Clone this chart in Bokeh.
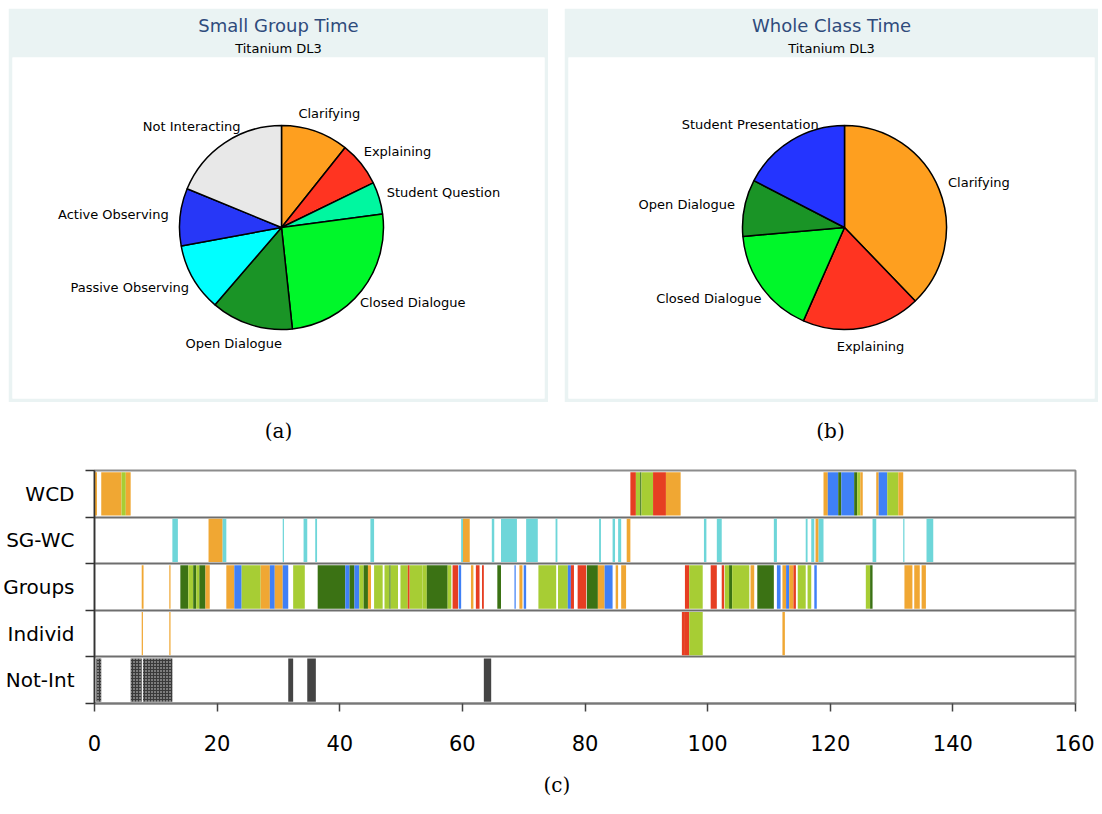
import math
from bokeh.plotting import figure
from bokeh.models import ColumnDataSource, Range1d, Title, FixedTicker, Spacer
from bokeh.layouts import column, row
from bokeh.core.properties import value
from bokeh.embed import file_html
from bokeh.resources import INLINE

# ---------------- data ----------------
sg_labels = ["Clarifying", "Explaining", "Student Question", "Closed Dialogue",
             "Open Dialogue", "Passive Observing", "Active Observing", "Not Interacting"]
sg_values = [10.7, 7.1, 5.1, 25.4, 13.0, 10.8, 9.1, 18.8]

wc_labels = ["Clarifying", "Explaining", "Closed Dialogue", "Open Dialogue", "Student Presentation"]
wc_values = [37.8, 18.8, 17.0, 9.0, 17.4]

captions = ["(a)", "(b)", "(c)"]

rows = ["WCD", "SG-WC", "Groups", "Individ", "Not-Int"]
x_ticks = [0, 20, 40, 60, 80, 100, 120, 140, 160]

# codes: C clarifying, E explaining, D closed dialogue, O open dialogue,
#        P presentation/observing, S small-group/whole-class, N not interacting, H not interacting (dotted)
wcd_start = [0.0, 1.1, 4.4, 5.1, 87.4, 88.3, 89.0, 89.2, 91.1, 93.2, 118.9, 119.6, 121.3, 121.8,
             123.9, 124.4, 124.9, 127.5, 127.9, 129.3, 131.1]
wcd_end = [0.4, 4.4, 5.1, 5.9, 88.3, 89.0, 89.2, 91.1, 93.2, 95.6, 119.6, 121.3, 121.8, 123.9,
           124.4, 124.9, 125.3, 127.9, 129.3, 131.1, 131.9]
wcd_code = ["C", "C", "D", "C", "E", "D", "O", "D", "E", "C", "C", "P", "O", "P",
            "O", "D", "C", "C", "P", "D", "C"]

sgwc_start = [12.7, 18.6, 20.9, 30.7, 34.1, 36.0, 45.0, 59.8, 60.1, 64.8, 66.3, 70.4, 75.2, 82.3,
              84.5, 85.4, 86.8, 99.4, 101.5, 110.8, 116.0, 116.9, 117.6, 118.1, 126.9, 131.9, 135.7]
sgwc_end = [13.6, 20.9, 21.5, 30.9, 34.7, 36.3, 45.6, 60.1, 61.2, 65.2, 68.9, 72.3, 75.5, 82.6,
            84.9, 85.9, 87.4, 99.8, 102.3, 111.3, 116.3, 117.4, 118.1, 118.9, 127.5, 132.1, 136.8]
sgwc_code = ["S", "C", "S", "S", "S", "S", "S", "S", "C", "S", "S", "S", "S", "S",
             "S", "S", "C", "S", "S", "S", "S", "S", "C", "S", "S", "S", "S"]

groups_start = [7.7, 12.2, 14.0, 15.3, 16.1, 16.6, 17.1, 18.1, 21.5, 22.8, 24.0, 27.1, 28.6, 29.4,
                30.7, 32.4, 36.4, 40.9, 41.6, 42.4, 43.2, 43.9, 44.6, 45.6, 47.3, 48.1, 48.3, 49.9,
                51.1, 51.4, 53.5, 54.2, 57.6, 58.4, 59.4, 61.4, 62.2, 63.2, 65.7, 68.5, 69.3, 70.0,
                72.4, 75.6, 77.2, 77.7, 78.8, 80.3, 82.1, 83.2, 85.0, 85.9, 96.3, 97.0, 100.5, 102.3,
                102.8, 103.5, 104.0, 107.0, 108.1, 111.3, 112.2, 112.8, 113.3, 114.0, 114.7, 116.3,
                117.4, 125.8, 126.5, 132.1, 133.7, 134.9]
groups_end = [8.0, 12.4, 15.3, 16.1, 16.6, 17.1, 18.1, 18.8, 22.8, 24.0, 27.1, 28.6, 29.4, 30.7,
              31.6, 34.3, 40.9, 41.6, 42.4, 43.2, 43.9, 44.6, 45.1, 47.0, 48.1, 48.3, 49.5, 51.1,
              51.4, 53.5, 54.2, 57.6, 58.2, 59.3, 59.8, 61.8, 62.8, 63.5, 66.3, 68.7, 69.8, 70.4,
              75.3, 77.2, 77.7, 78.2, 80.2, 82.1, 83.2, 84.5, 85.4, 86.7, 97.0, 99.2, 101.5, 102.7,
              103.5, 104.0, 106.8, 107.6, 110.8, 111.9, 112.8, 113.3, 114.0, 114.4, 116.0, 116.9,
              117.8, 126.5, 126.9, 133.4, 134.6, 135.6]
groups_code = ["C", "C", "O", "D", "O", "D", "O", "C", "C", "P", "D", "C", "P", "C",
               "P", "D", "O", "P", "O", "P", "D", "O", "C", "D", "D", "O", "D", "D",
               "E", "D", "D", "O", "D", "E", "P", "C", "E", "E", "O", "P", "C", "P",
               "D", "D", "P", "E", "E", "O", "C", "P", "C", "C", "E", "D", "E", "E",
               "D", "O", "D", "C", "O", "P", "C", "P", "C", "E", "D", "D",
               "P", "D", "O", "C", "C", "C"]

individ_start = [7.7, 12.2, 95.8, 96.3, 97.0, 112.2]
individ_end = [7.9, 12.4, 96.3, 97.0, 99.2, 112.6]
individ_code = ["C", "C", "E", "E", "D", "C"]

notint_start = [0.3, 5.9, 7.9, 31.6, 34.7, 63.5]
notint_end = [1.1, 7.7, 12.7, 32.4, 36.1, 64.7]
notint_code = ["H", "H", "H", "N", "N", "N"]

# ---------------- styles ----------------
pie_colors = {
    "Clarifying": "#fe9f1f", "Explaining": "#ff3421", "Student Question": "#00f7a0",
    "Closed Dialogue": "#00f72a", "Open Dialogue": "#1a9426", "Passive Observing": "#00ffff",
    "Active Observing": "#2737f7", "Not Interacting": "#e8e8e8", "Student Presentation": "#2434ff",
}
code_colors = {"C": "#f0a733", "E": "#e63e22", "D": "#a7cd34", "O": "#3b7214",
               "P": "#3f80f6", "S": "#6ed6d9", "N": "#444444", "H": "#3a3a3a"}
PANEL = "#eaf3f3"
TITLE_BLUE = "#2f4b7c"
R = 102
LABEL_FS = 13


def text_width(s, fs):
    narrow = set("iltfjrI ")
    return sum((0.33 if ch in narrow else 0.62) for ch in s) * fs


def pie_figure(title, labels, values, fig_w, x_lo):
    frame_w = fig_w - 8
    tot = float(sum(values))
    cum = 0.0
    starts, ends, lx, ly, cols = [], [], [], [], []
    for lab, v in zip(labels, values):
        a0 = cum / tot
        cum += v
        a1 = cum / tot
        starts.append(math.pi / 2 - 2 * math.pi * a0)
        ends.append(math.pi / 2 - 2 * math.pi * a1)
        th = math.pi * (a0 + a1)
        w = text_width(lab, LABEL_FS)
        h = LABEL_FS * 1.1
        d = R + 12
        lx.append(d * math.sin(th) + math.sin(th) * w / 2)
        ly.append(d * math.cos(th) + math.cos(th) * h / 2)
        cols.append(pie_colors[lab])
    src = ColumnDataSource(dict(start=starts, end=ends, color=cols, lx=lx, ly=ly, label=labels))

    p = figure(title=None, width=fig_w, height=394,
               x_range=Range1d(x_lo, x_lo + frame_w), y_range=Range1d(-171, 170),
               x_axis_location=None, y_axis_location=None,
               toolbar_location=None, output_backend="svg",
               min_border_left=4, min_border_right=4, min_border_bottom=4, min_border_top=49,
               border_fill_color=PANEL, background_fill_color="white", outline_line_color=None)
    p.grid.visible = False
    p.add_layout(Title(text="Titanium DL3", align="center", text_font_size="13px",
                       text_font="DejaVu Sans", text_font_style="normal", text_color="black",
                       standoff=3), "above")
    p.add_layout(Title(text=title, align="center", text_font_size="18px",
                       text_font="DejaVu Sans", text_font_style="normal", text_color=TITLE_BLUE,
                       standoff=4), "above")
    p.wedge(x=0, y=0, radius=R, start_angle="start", end_angle="end", direction="clock",
            fill_color="color", line_color="black", line_width=1.5, source=src)
    p.text(x="lx", y="ly", text="label", source=src, text_font=value("DejaVu Sans"),
           text_font_size=f"{LABEL_FS}px", text_align="center", text_baseline="middle",
           text_color="black")
    return p


p_a = pie_figure("Small Group Time", sg_labels, sg_values, 540, -269)
p_b = pie_figure("Whole Class Time", wc_labels, wc_values, 534, -276)

# caption strip for (a) and (b), in page pixels
cap = figure(title=None, width=1100, height=60, x_range=Range1d(1, 1101), y_range=Range1d(0, 60),
             x_axis_location=None, y_axis_location=None, toolbar_location=None,
             output_backend="svg", min_border=0, outline_line_color=None)
cap.grid.visible = False
cap.text(x=[278, 830], y=[32, 32], text=captions[:2], text_font=value("DejaVu Serif"),
         text_font_size="20px", text_align="center", text_baseline="middle", text_color="black")

# ---------------- timeline ----------------
series = [(wcd_start, wcd_end, wcd_code), (sgwc_start, sgwc_end, sgwc_code),
          (groups_start, groups_end, groups_code), (individ_start, individ_end, individ_code),
          (notint_start, notint_end, notint_code)]
ys, lefts, rights, colors, hatches = [], [], [], [], []
n = len(rows)
for i, (s_list, e_list, c_list) in enumerate(series):
    for s, e, c in zip(s_list, e_list, c_list):
        ys.append(n - i - 0.5)
        lefts.append(s)
        rights.append(e)
        colors.append(code_colors[c])
        hatches.append("dot" if c == "H" else "blank")
tl_src = ColumnDataSource(dict(y=ys, left=lefts, right=rights, color=colors, hatch=hatches))

p_c = figure(title=None, width=1094, height=352,
             x_range=Range1d(x_ticks[0], x_ticks[-1]), y_range=Range1d(0, n),
             toolbar_location=None, output_backend="svg",
             min_border_left=93, min_border_right=19, min_border_top=8, min_border_bottom=111,
             outline_line_color="#8c8c8c", outline_line_width=2,
             background_fill_color="white", border_fill_color="white")
p_c.hbar(y="y", left="left", right="right", height=0.93, fill_color="color", line_color=None,
         hatch_pattern="hatch", hatch_color="white", hatch_scale=3, hatch_alpha=0.85, source=tl_src)

p_c.xgrid.visible = False
p_c.ygrid.ticker = FixedTicker(ticks=list(range(1, n)))
p_c.ygrid.grid_line_color = "#6e6e6e"
p_c.ygrid.grid_line_width = 2

xa = p_c.xaxis[0]
xa.ticker = FixedTicker(ticks=x_ticks, minor_ticks=[])
xa.axis_line_color = "#777777"
xa.axis_line_width = 2
xa.major_tick_out = 8
xa.major_tick_in = 0
xa.major_tick_line_color = "#444444"
xa.major_tick_line_width = 1.5
xa.minor_tick_line_color = None
xa.major_label_standoff = 23
xa.major_label_text_font = "DejaVu Sans"
xa.major_label_text_font_size = "21px"
xa.major_label_text_color = "black"

ya = p_c.yaxis[0]
centers = [n - i - 0.5 for i in range(n)]
ya.ticker = FixedTicker(ticks=centers, minor_ticks=list(range(0, n + 1)))
ya.major_label_overrides = {c: r for c, r in zip(centers, rows)}
ya.major_tick_out = 0
ya.major_tick_in = 0
ya.minor_tick_out = 9
ya.minor_tick_in = 0
ya.minor_tick_line_color = "#333333"
ya.minor_tick_line_width = 1.5
ya.axis_line_color = "#333333"
ya.axis_line_width = 1.5
ya.major_label_standoff = 11
ya.major_label_text_font = "DejaVu Sans"
ya.major_label_text_font_size = "20px"
ya.major_label_text_color = "black"

p_c.add_layout(Title(text=captions[2], align="left", offset=449, text_font="DejaVu Serif",
                     text_font_size="20px", text_font_style="normal", text_color="black",
                     standoff=35), "below")

layout = column(
    Spacer(width=10, height=8),
    row(Spacer(width=8, height=394), p_a, Spacer(width=16, height=394), p_b),
    row(Spacer(width=1, height=60), cap),
    p_c,
)

open("out.html", "w").write(file_html(layout, INLINE))
